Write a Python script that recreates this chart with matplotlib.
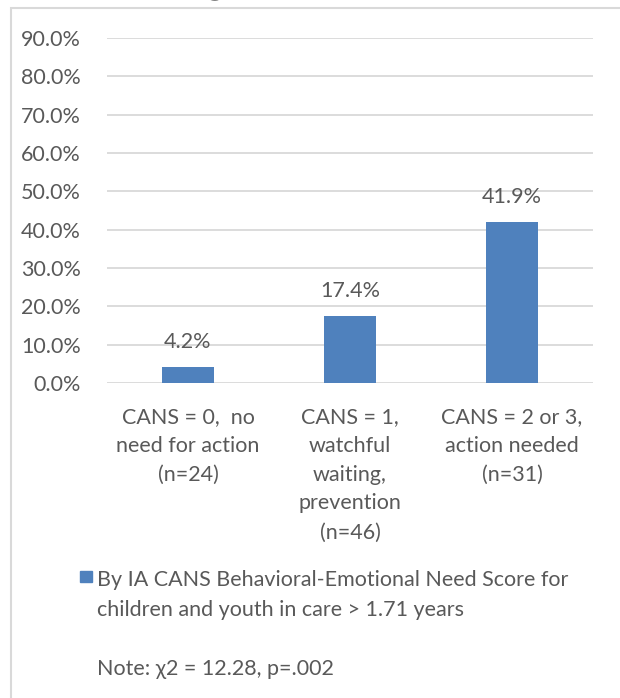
import matplotlib
matplotlib.use("Agg")
import matplotlib.pyplot as plt
from matplotlib.patches import Rectangle
from matplotlib.ticker import FuncFormatter

categories = ["CANS = 0,  no\nneed for action\n(n=24)",
              "CANS = 1,\nwatchful\nwaiting,\nprevention\n(n=46)",
              "CANS = 2 or 3,\naction needed\n(n=31)"]
values = [4.2, 17.4, 41.9]
yticks = [0, 10, 20, 30, 40, 50, 60, 70, 80, 90]
legend_label = "By IA CANS Behavioral-Emotional Need Score for\nchildren and youth in care > 1.71 years"
note = "Note: \u03c72 = 12.28, p=.002"

plt.rcParams['font.family'] = ['Lato', 'DejaVu Sans']
TXT = '#595959'
FS = 15.5
W, H = 620, 698
fig = plt.figure(figsize=(W/100, H/100), dpi=100)

def fx(x): return x / W
def fy(y): return 1 - y / H

# outer frame
fig.patches.append(Rectangle((fx(11), fy(H + 20)), fx(W + 20), fy(8) - fy(H + 20),
                             transform=fig.transFigure, fill=False,
                             edgecolor='#D9D9D9', lw=1.5))

# cut-off title (only descenders visible)
fig.text(fx(118), fy(-8), "Category", fontsize=30, fontweight='bold',
         color='black', va='baseline', ha='left')

ax = fig.add_axes([fx(107), fy(383), fx(593) - fx(107), fy(38) - fy(383)])
x = list(range(len(values)))
bars = ax.bar(x, values, width=0.32, color='#4F81BD', zorder=3)
ax.set_xlim(-0.5, 2.5)
ax.set_ylim(0, 90)
ax.set_yticks(yticks)
ax.yaxis.set_major_formatter(FuncFormatter(lambda v, p: f"{v:.1f}%"))
ax.grid(axis='y', color='#D9D9D9', lw=1.3, zorder=0)
for s in ax.spines.values():
    s.set_visible(False)
ax.tick_params(axis='y', length=0, pad=19, labelsize=FS, labelcolor=TXT)
ax.tick_params(axis='x', length=0, pad=17, labelsize=FS, labelcolor=TXT)
ax.set_xticks(x)
ax.set_xticklabels(categories, linespacing=1.56, va='top')
for b, v in zip(bars, values):
    ax.annotate(f"{v:.1f}%", (b.get_x() + b.get_width()/2, v),
                xytext=(0, 11), textcoords='offset points',
                ha='center', va='bottom', fontsize=FS, color=TXT)

# legend
fig.patches.append(Rectangle((fx(80), fy(582)), fx(12), fy(571) - fy(582),
                             transform=fig.transFigure, color='#4F81BD'))
fig.text(fx(97), fy(570), legend_label, fontsize=FS, color=TXT,
         va='top', ha='left', linespacing=1.65)
fig.text(fx(97), fy(659), note, fontsize=FS, color=TXT, va='top', ha='left')

fig.savefig("out.png", dpi=100)
